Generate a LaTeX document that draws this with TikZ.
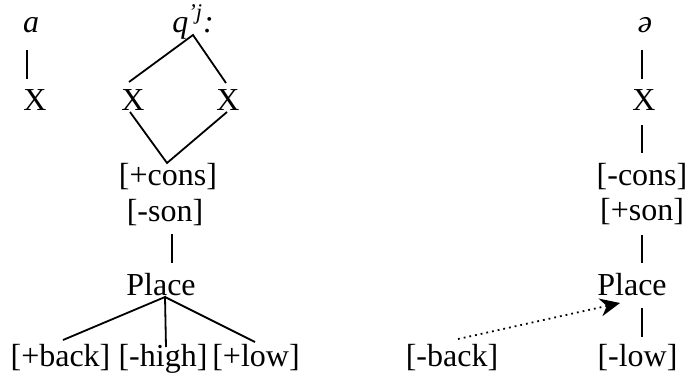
\documentclass[tikz,border=0pt]{standalone}
\usepackage{fontspec}
\setmainfont{Liberation Serif}
\usetikzlibrary{calc,arrows.meta}
\begin{document}
\begin{tikzpicture}[x=0.5pt,y=-0.5pt,
  lbl/.style={anchor=base,inner sep=0pt,font=\fontsize{16}{19}\selectfont},
  ln/.style={line width=0.9pt},
  arr/.style={line width=0.9pt,dotted,-{Stealth[length=10pt,width=9pt]}}]
\useasboundingbox (0,0) rectangle (688,375);
% nodes
\node[lbl] (a) at (31,32) {\textit{a}};
\node[lbl] (q) at (193,32) {\textit{q}\textsuperscript{\textit{'j}}\textit{:}};
\node[lbl] (schwa) at (645,32) {\textit{ə}};
\node[lbl] (xa) at (35,110) {X};
\node[lbl] (xb) at (133,110) {X};
\node[lbl] (xc) at (228,110) {X};
\node[lbl] (xd) at (644,110) {X};
\node[lbl] (consL) at (168,185) {[+cons]};
\node[lbl] (sonL) at (165,221) {[-son]};
\node[lbl] (consR) at (642,185) {[-cons]};
\node[lbl] (sonR) at (642,220) {[+son]};
\node[lbl] (placeL) at (161,295) {Place};
\node[lbl] (placeR) at (632,295) {Place};
\node[lbl] (back) at (60.5,366) {[+back]};
\node[lbl] (high) at (163,366) {[-high]};
\node[lbl] (low) at (256,366) {[+low]};
\node[lbl] (backR) at (452,366) {[-back]};
\node[lbl] (lowR) at (637.5,366) {[-low]};
% connectors
\draw[ln] ($(a.base)+(-4,18)$) -- ($(xa.base)+(-8,-31)$);
\draw[ln] ($(xb.base)+(-4,-28)$) -- ($(q.base)+(0,3)$) -- ($(xc.base)+(-2,-27)$);
\draw[ln] ($(xb.base)+(-3,2)$) -- ($(consL.base)+(-1,-22)$) -- ($(xc.base)+(-1,2)$);
\draw[ln] ($(sonL.base)+(7,13)$) -- ($(placeL.base)+(11,-32)$);
\draw[ln] ($(back.base)+(2.5,-26)$) -- ($(placeL.base)+(4,2)$) -- ($(high.base)+(3,-19)$);
\draw[ln] ($(placeL.base)+(4,2)$) -- ($(low.base)+(-1,-24)$);
\draw[ln] ($(schwa.base)+(-3,18)$) -- ($(xd.base)+(-2,-31)$);
\draw[ln] ($(xd.base)+(-2,15)$) -- ($(consR.base)+(0,-32)$);
\draw[ln] ($(sonR.base)+(0,15)$) -- ($(placeR.base)+(10,-32)$);
\draw[ln] ($(placeR.base)+(10,13)$) -- ($(lowR.base)+(4.5,-29)$);
\draw[arr] ($(backR.base)+(6,-27)$) -- ($(placeR.base)+(-12,8)$);
\end{tikzpicture}
\end{document}
